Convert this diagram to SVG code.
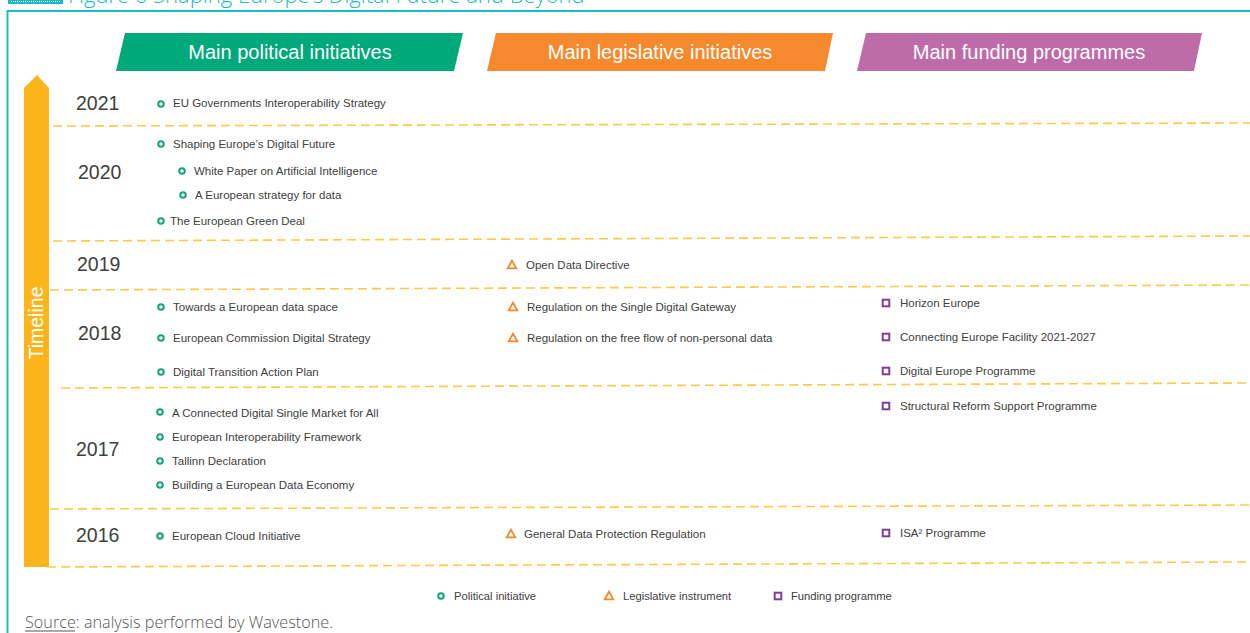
<svg xmlns="http://www.w3.org/2000/svg" width="1250" height="633" viewBox="0 0 1250 633">
<style>
.bg{fill:#ffffff}
.frame{fill:none;stroke:#1ABBC9;stroke-width:2}
.sep{stroke:#FFC84A;stroke-width:1.6;stroke-dasharray:9 5;fill:none}
.ban{font-family:"Liberation Sans",Arial,sans-serif;font-size:20px;fill:#ffffff;text-anchor:middle}
.yr{font-family:"Liberation Sans",Arial,sans-serif;font-size:19.5px;fill:#404040}
.it{font-family:"Liberation Sans",Arial,sans-serif;font-size:11.5px;fill:#404040}
.lg{font-family:"Liberation Sans",Arial,sans-serif;font-size:11.2px;fill:#404040}
.pol{fill:none;stroke:#14A37A;stroke-width:2}
.leg{fill:none;stroke:#F5892A;stroke-width:1.8;stroke-linejoin:miter}
.fun{fill:none;stroke:#7E3E9E;stroke-width:2}
.src{font-family:"Open Sans","Liberation Sans",sans-serif;font-size:15.5px;fill:#555555;font-weight:300}
.ttl{font-family:"Open Sans","Liberation Sans",sans-serif;font-size:22px;fill:#1ABBC9;font-weight:300}
</style>
<defs>
<circle id="mc" r="2.8" class="pol"/>
<path id="mt" d="M0,-4.3 L4.3,3.3 L-4.3,3.3 Z" class="leg"/>
<rect id="ms" x="-3.3" y="-3.3" width="6.6" height="6.6" class="fun"/>
</defs>
<rect class="bg" x="0" y="0" width="1250" height="633"/>

<g id="title">
<rect x="8" y="-6" width="55" height="10" fill="#1ABBC9"/>
<line x1="11" y1="1.5" x2="60" y2="1.5" stroke="#ffffff" stroke-width="1" stroke-dasharray="1 1"/>
<text class="ttl" x="68" y="3">Figure 6 Shaping Europe’s Digital Future and Beyond</text>
</g>
<path class="frame" d="M7.5,640 L7.5,11 L1252,11"/>

<g id="header-political">
<polygon points="125,33 463,33 454,71 116,71" fill="#00A97A"/>
<text class="ban" x="290" y="59">Main political initiatives</text>
</g>
<g id="header-legislative">
<polygon points="496,33 833,33 825,71 487,71" fill="#F5892D"/>
<text class="ban" x="660" y="59">Main legislative initiatives</text>
</g>
<g id="header-funding">
<polygon points="866,33 1202,33 1194,71 857,71" fill="#BE6CA9"/>
<text class="ban" x="1029" y="59">Main funding programmes</text>
</g>

<g id="timeline">
<polygon points="24,88 37,75 49,88 49,567 24,567" fill="#FBB51B"/>
<text transform="translate(43,323) rotate(-90)" text-anchor="middle" font-family="Liberation Sans,Arial,sans-serif" font-size="19.5" fill="#ffffff">Timeline</text>
</g>

<g id="separators">
<line class="sep" x1="53" y1="126" x2="1250" y2="123"/>
<line class="sep" x1="53" y1="241" x2="1250" y2="236"/>
<line class="sep" x1="50" y1="290" x2="1250" y2="285"/>
<line class="sep" x1="61" y1="388" x2="1250" y2="383"/>
<line class="sep" x1="50" y1="509" x2="1250" y2="505"/>
<line class="sep" x1="47" y1="567" x2="1250" y2="562"/>
</g>

<g id="years">
<text class="yr" x="76" y="110">2021</text>
<text class="yr" x="78" y="179">2020</text>
<text class="yr" x="77" y="271">2019</text>
<text class="yr" x="78" y="340">2018</text>
<text class="yr" x="76" y="456">2017</text>
<text class="yr" x="76" y="542">2016</text>
</g>

<g id="political-initiatives">
<g id="p-eu-gov-interop"><use href="#mc" x="161" y="104"/><text class="it" x="173" y="107">EU Governments Interoperability Strategy</text></g>
<g id="p-shaping"><use href="#mc" x="161" y="144"/><text class="it" x="173" y="148">Shaping Europe’s Digital Future</text></g>
<g id="p-white-paper"><use href="#mc" x="182" y="171"/><text class="it" x="194" y="175">White Paper on Artificial Intelligence</text></g>
<g id="p-data-strategy"><use href="#mc" x="183" y="195"/><text class="it" x="195" y="199">A European strategy for data</text></g>
<g id="p-green-deal"><use href="#mc" x="161" y="221"/><text class="it" x="170" y="225">The European Green Deal</text></g>
<g id="p-data-space"><use href="#mc" x="161" y="307"/><text class="it" x="173" y="311">Towards a European data space</text></g>
<g id="p-ec-digital"><use href="#mc" x="161" y="338"/><text class="it" x="173" y="342">European Commission Digital Strategy</text></g>
<g id="p-transition"><use href="#mc" x="161" y="372"/><text class="it" x="173" y="376">Digital Transition Action Plan</text></g>
<g id="p-dsm"><use href="#mc" x="160" y="412"/><text class="it" x="172" y="417">A Connected Digital Single Market for All</text></g>
<g id="p-eif"><use href="#mc" x="160" y="437"/><text class="it" x="172" y="441">European Interoperability Framework</text></g>
<g id="p-tallinn"><use href="#mc" x="160" y="461"/><text class="it" x="172" y="465">Tallinn Declaration</text></g>
<g id="p-data-economy"><use href="#mc" x="160" y="485"/><text class="it" x="172" y="489">Building a European Data Economy</text></g>
<g id="p-cloud"><use href="#mc" x="160" y="536"/><text class="it" x="172" y="540">European Cloud Initiative</text></g>
</g>

<g id="legislative-initiatives">
<g id="l-open-data"><use href="#mt" x="512" y="265"/><text class="it" x="526" y="269">Open Data Directive</text></g>
<g id="l-sdg"><use href="#mt" x="513" y="307"/><text class="it" x="527" y="311">Regulation on the Single Digital Gateway</text></g>
<g id="l-free-flow"><use href="#mt" x="513" y="338"/><text class="it" x="527" y="342">Regulation on the free flow of non-personal data</text></g>
<g id="l-gdpr"><use href="#mt" x="511" y="534"/><text class="it" x="524" y="538">General Data Protection Regulation</text></g>
</g>

<g id="funding-programmes">
<g id="f-horizon"><use href="#ms" x="886" y="303"/><text class="it" x="900" y="307">Horizon Europe</text></g>
<g id="f-cef"><use href="#ms" x="886" y="337"/><text class="it" x="900" y="341">Connecting Europe Facility 2021-2027</text></g>
<g id="f-dep"><use href="#ms" x="886" y="371"/><text class="it" x="900" y="375">Digital Europe Programme</text></g>
<g id="f-srsp"><use href="#ms" x="886" y="406"/><text class="it" x="900" y="410">Structural Reform Support Programme</text></g>
<g id="f-isa"><use href="#ms" x="886" y="533"/><text class="it" x="900" y="537">ISA² Programme</text></g>
</g>

<g id="legend">
<use href="#mc" x="441" y="596"/><text class="lg" x="454" y="600">Political initiative</text>
<use href="#mt" x="609" y="596"/><text class="lg" x="623" y="600">Legislative instrument</text>
<use href="#ms" x="778" y="596"/><text class="lg" x="791" y="600">Funding programme</text>
</g>

<g id="source">
<text class="src" x="25" y="628" textLength="308" lengthAdjust="spacingAndGlyphs">Source: analysis performed by Wavestone.</text>
<line x1="25" y1="631" x2="75" y2="631" stroke="#555555" stroke-width="1"/>
</g>
</svg>
